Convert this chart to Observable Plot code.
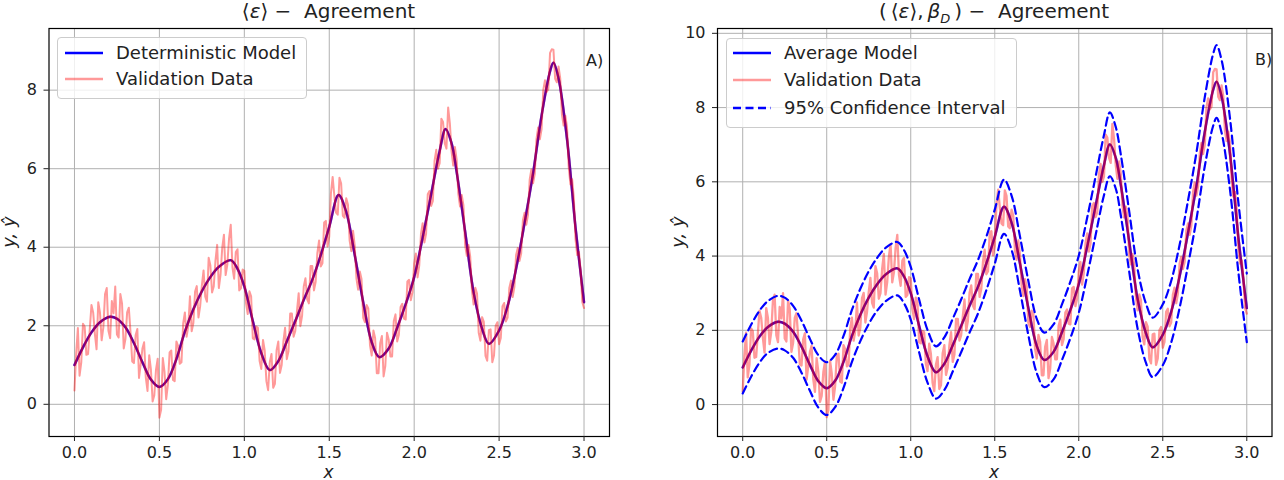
<!DOCTYPE html>
<html>
<head>
<meta charset="utf-8">
<script src="https://cdn.jsdelivr.net/npm/d3@7"></script>
<script src="https://cdn.jsdelivr.net/npm/@observablehq/plot@0.6"></script>
<style>
  html, body { margin: 0; padding: 0; background: #fff; }
  body { width: 1284px; height: 480px; position: relative; overflow: hidden; font-family: "DejaVu Sans", sans-serif; color: #222; }
  .panel { position: absolute; top: 0; }
  .abs { position: absolute; white-space: nowrap; }
  .title { font-size: 20px; line-height: 20px; transform: translateX(-50%); }
  .legend { position: absolute; background: rgba(255,255,255,0.8); border: 1px solid #cccccc; border-radius: 4px; box-sizing: border-box; }
  .ltext { position: absolute; font-size: 18px; line-height: 22px; }
  .sw { position: absolute; }
  .ylab { font-size: 18px; font-style: italic; transform: translate(-50%, -50%) rotate(-90deg); }
  .xlab { font-size: 17px; line-height: 13px; font-style: italic; transform: translateX(-50%); }
  .tag { font-size: 16px; line-height: 16px; }
</style>
</head>
<body>
<div id="left" class="panel" style="left:0"></div>
<div id="right" class="panel" style="left:642px"></div>
<script>
// ---------- data ----------
const xTicks = [0, 0.5, 1.0, 1.5, 2.0, 2.5, 3.0];
const yTicksLeft = [0, 2, 4, 6, 8];
const yTicksRight = [0, 2, 4, 6, 8, 10];

const modelX = [0,0.05,0.10,0.15,0.21,0.25,0.30,0.35,0.40,0.45,0.50,0.55,0.60,0.65,0.70,0.75,0.80,0.85,0.92,0.96,1.00,1.05,1.10,1.15,1.20,1.25,1.30,1.35,1.40,1.45,1.50,1.555,1.60,1.65,1.70,1.75,1.795,1.85,1.90,1.95,2.00,2.05,2.10,2.15,2.185,2.22,2.25,2.30,2.35,2.40,2.44,2.50,2.55,2.60,2.65,2.70,2.75,2.80,2.82,2.85,2.90,2.95,3.00];
const modelY = [1.00,1.45,1.83,2.09,2.23,2.18,1.96,1.56,1.07,0.63,0.44,0.64,1.15,1.85,2.42,2.88,3.24,3.50,3.67,3.45,3.00,2.12,1.30,0.87,1.10,1.60,2.12,2.66,3.17,3.80,4.52,5.33,4.90,3.80,2.60,1.58,1.20,1.42,1.95,2.55,3.24,4.25,5.35,6.45,7.01,6.65,5.92,4.40,2.85,1.92,1.54,1.88,2.50,3.45,4.62,5.88,7.35,8.48,8.70,8.30,6.75,4.50,2.60];
const ciUpper = [1.70,2.15,2.53,2.79,2.93,2.88,2.66,2.26,1.77,1.33,1.14,1.34,1.85,2.55,3.12,3.59,3.95,4.22,4.38,4.16,3.71,2.83,2.01,1.57,1.81,2.31,2.83,3.38,3.89,4.52,5.25,6.06,5.63,4.53,3.33,2.31,1.94,2.16,2.70,3.31,4.01,5.03,6.14,7.26,7.87,7.48,6.74,5.21,3.65,2.72,2.34,2.70,3.33,4.30,5.49,6.78,8.28,9.45,9.68,9.28,7.71,5.44,3.53];
const ciLower = [0.30,0.75,1.13,1.39,1.51,1.46,1.26,0.86,0.37,-0.08,-0.28,-0.07,0.45,1.15,1.71,2.17,2.53,2.78,2.94,2.73,2.29,1.41,0.59,0.16,0.39,0.89,1.41,1.94,2.45,3.08,3.79,4.60,4.17,3.07,1.87,0.85,0.47,0.68,1.20,1.79,2.47,3.47,4.56,5.64,6.15,5.82,5.10,3.59,2.05,1.12,0.74,1.06,1.67,2.60,3.75,4.98,6.42,7.51,7.72,7.32,5.79,3.56,1.68];

// validation data: values at x = 0, 0.02, ..., 3.00 and at x = 0.01, 0.03, ..., 2.99
const validStep = 0.01;
const validYEven = [
  0.35,1.94,1.07,1.98,1.28,2.53,1.80,2.60,1.63,2.81,
  1.87,2.63,3.00,1.70,2.57,1.66,2.46,1.09,1.76,0.67,
  1.42,0.68,1.25,0.07,0.88,-0.34,1.18,0.13,1.32,0.62,
  1.60,1.03,2.06,1.72,2.75,2.07,3.01,2.50,3.41,2.61,
  3.54,3.00,4.06,3.30,4.32,3.56,4.57,3.20,3.95,2.95,
  3.40,2.30,2.75,1.65,1.95,0.90,1.37,0.36,1.28,0.52,
  1.60,1.00,1.95,1.35,2.31,1.87,2.83,2.25,3.21,2.57,
  3.52,3.12,4.17,3.59,4.67,4.27,5.79,4.88,5.77,4.80,
  5.25,4.17,4.42,3.21,3.38,2.20,2.53,1.50,1.88,0.79,
  1.56,0.71,1.82,1.22,2.12,1.60,2.48,2.18,3.13,2.65,
  3.59,3.23,4.34,4.12,5.35,5.05,6.20,6.00,7.27,6.65,
  7.56,6.45,6.55,5.35,5.33,4.05,4.06,2.90,2.97,1.82,
  2.22,1.23,1.89,1.07,2.00,1.53,2.50,2.11,2.96,2.73,
  3.80,3.65,4.68,4.57,5.72,5.63,6.75,6.75,8.00,7.95,
  8.95,9.03,8.20,8.30,7.10,7.05,5.60,5.25,3.80,3.40,
  2.45
];
const validYOdd = [
  1.30,0.73,2.05,1.26,1.91,2.34,1.40,2.34,1.96,2.96,
  1.68,2.32,1.78,2.81,1.42,2.34,1.83,1.05,1.92,1.02,
  1.58,0.34,0.89,0.23,1.16,-0.14,0.83,0.50,1.37,0.59,
  1.49,1.07,2.34,1.99,1.86,2.87,2.21,3.03,2.74,3.73,
  2.85,3.66,2.96,3.99,3.29,4.22,3.49,3.88,2.90,3.43,
  2.58,2.88,1.68,1.98,1.10,1.64,0.59,1.08,0.42,1.38,
  0.80,1.60,1.15,2.31,1.72,2.38,1.99,3.01,2.67,3.52,
  2.90,3.85,3.51,4.63,4.02,5.38,5.31,4.83,5.62,4.75,
  5.09,3.90,4.04,2.92,3.19,2.09,2.44,1.24,1.69,0.79,
  1.74,0.97,1.65,1.22,2.29,1.77,2.56,2.16,3.17,2.85,
  3.84,3.54,4.61,4.34,5.43,5.18,6.48,6.14,7.19,6.51,
  7.16,6.08,6.23,5.04,5.07,3.78,3.76,2.54,2.82,1.62,
  2.10,1.11,1.91,1.24,2.09,1.69,2.58,2.21,3.15,2.99,
  3.98,3.84,4.88,4.82,5.98,5.87,7.05,7.00,8.25,8.03,
  9.04,8.29,8.60,7.38,7.35,6.03,5.73,4.20,3.88,2.60
];

// ---------- tables built from the arrays ----------
const model = modelX.map((x, i) => ({x, y: modelY[i], up: ciUpper[i], lo: ciLower[i]}));
const valid = [];
validYEven.forEach((y, i) => {
  valid.push({x: 2 * i * validStep, y});
  if (i < validYOdd.length) valid.push({x: (2 * i + 1) * validStep, y: validYOdd[i]});
});

const BLUE = "#0000ff";
const PINK = "#ff0000";
const common = (yDomain, ml, mr) => ({
  width: 642, height: 480,
  marginLeft: ml, marginRight: mr, marginTop: 28, marginBottom: 44,
  x: {domain: [-0.15, 3.15]},
  y: {domain: yDomain},
  style: {fontFamily: "DejaVu Sans, sans-serif", fontSize: "16px", color: "#222", background: "transparent", overflow: "visible"}
});
const axes = (yTicks) => [
  Plot.frame({stroke: "#000", strokeWidth: 1.2}),
  Plot.axisX({ticks: xTicks, tickFormat: d => d.toFixed(1), tickSize: 5, tickPadding: 5, label: null, fontSize: 16}),
  Plot.axisY({ticks: yTicks, tickFormat: d => String(d), tickSize: 5, tickPadding: 7, label: null, fontSize: 16})
];
const grids = (yTicks) => [
  Plot.gridX({ticks: xTicks, stroke: "#b0b0b0", strokeOpacity: 1, strokeWidth: 1}),
  Plot.gridY({ticks: yTicks, stroke: "#b0b0b0", strokeOpacity: 1, strokeWidth: 1})
];
// dense validation band: the noisy trace, plus its translucent cover over the model curve
const validationMarks = (w) => [
  Plot.line(valid, {x: "x", y: "y", stroke: PINK, strokeOpacity: 0.4, strokeWidth: w}),
  Plot.line(model, {x: "x", y: "y", stroke: PINK, strokeOpacity: 0.4, strokeWidth: 2.6, curve: "catmull-rom"})
];

const leftPlot = Plot.plot({
  ...common([-0.82, 9.57], 48.5, 33),
  marks: [
    ...grids(yTicksLeft),
    Plot.line(model, {x: "x", y: "y", stroke: BLUE, strokeWidth: 2.4, curve: "catmull-rom"}),
    ...validationMarks(2.0),
    ...axes(yTicksLeft)
  ]
});
document.getElementById("left").append(leftPlot);

const rightPlot = Plot.plot({
  ...common([-0.86, 10.13], 75, 12.5),
  marks: [
    ...grids(yTicksRight),
    Plot.line(model, {x: "x", y: "y", stroke: BLUE, strokeWidth: 2.4, curve: "catmull-rom"}),
    ...validationMarks(2.3),
    Plot.line(model, {x: "x", y: "up", stroke: BLUE, strokeWidth: 2.2, strokeDasharray: "8,4.5", curve: "catmull-rom"}),
    Plot.line(model, {x: "x", y: "lo", stroke: BLUE, strokeWidth: 2.2, strokeDasharray: "8,4.5", curve: "catmull-rom"}),
    ...axes(yTicksRight)
  ]
});
document.getElementById("right").append(rightPlot);

// ---------- text, labels and legends ----------
function add(html, cls, style) {
  const d = document.createElement("div");
  d.className = "abs " + cls;
  d.innerHTML = html;
  Object.assign(d.style, style);
  document.body.append(d);
  return d;
}
add("⟨<i>ε</i>⟩ − &nbsp;Agreement", "title", {left: "328.5px", top: "1px"});
add("(&thinsp;⟨<i>ε</i>⟩,&thinsp;<i>β</i><sub style='font-size:13px'><i>D</i></sub>&thinsp;) − &nbsp;Agreement", "title", {left: "994px", top: "1px"});
add("y, ŷ", "ylab", {left: "8px", top: "232px"});
add("y, ŷ", "ylab", {left: "677px", top: "232px"});
add("x", "xlab", {left: "328.5px", top: "466px"});
add("x", "xlab", {left: "994px", top: "466px"});
add("A)", "tag", {left: "586px", top: "53px"});
add("B)", "tag", {left: "1255px", top: "52px"});

function legend(box, rows) {
  const lg = document.createElement("div");
  lg.className = "legend";
  Object.assign(lg.style, {left: box.x + "px", top: box.y + "px", width: box.w + "px", height: box.h + "px"});
  document.body.append(lg);
  rows.forEach(r => {
    const sw = document.createElementNS("http://www.w3.org/2000/svg", "svg");
    sw.setAttribute("class", "sw");
    sw.setAttribute("width", 40); sw.setAttribute("height", 10);
    Object.assign(sw.style, {left: (r.sx - box.x - 1) + "px", top: (r.cy - box.y - 6) + "px"});
    const ln = document.createElementNS("http://www.w3.org/2000/svg", "line");
    ln.setAttribute("x1", 0); ln.setAttribute("x2", 38); ln.setAttribute("y1", 5); ln.setAttribute("y2", 5);
    ln.setAttribute("stroke", r.stroke); ln.setAttribute("stroke-width", r.w);
    if (r.opacity) ln.setAttribute("stroke-opacity", r.opacity);
    if (r.dash) ln.setAttribute("stroke-dasharray", r.dash);
    sw.append(ln);
    lg.append(sw);
    const t = document.createElement("div");
    t.className = "ltext";
    t.textContent = r.label;
    Object.assign(t.style, {left: (r.tx - box.x - 1) + "px", top: (r.cy - box.y - 12) + "px"});
    lg.append(t);
  });
}
legend({x: 57, y: 37, w: 250, h: 62}, [
  {sx: 65, tx: 116, cy: 53, stroke: BLUE, w: 2.4, label: "Deterministic Model"},
  {sx: 65, tx: 116, cy: 79, stroke: PINK, opacity: 0.4, w: 2.4, label: "Validation Data"}
]);
legend({x: 726, y: 38, w: 291, h: 90}, [
  {sx: 733, tx: 784, cy: 53, stroke: BLUE, w: 2.4, label: "Average Model"},
  {sx: 733, tx: 784, cy: 80, stroke: PINK, opacity: 0.4, w: 2.4, label: "Validation Data"},
  {sx: 733, tx: 784, cy: 108, stroke: BLUE, w: 2.4, dash: "8,4.5", label: "95% Confidence Interval"}
]);
</script>
</body>
</html>
